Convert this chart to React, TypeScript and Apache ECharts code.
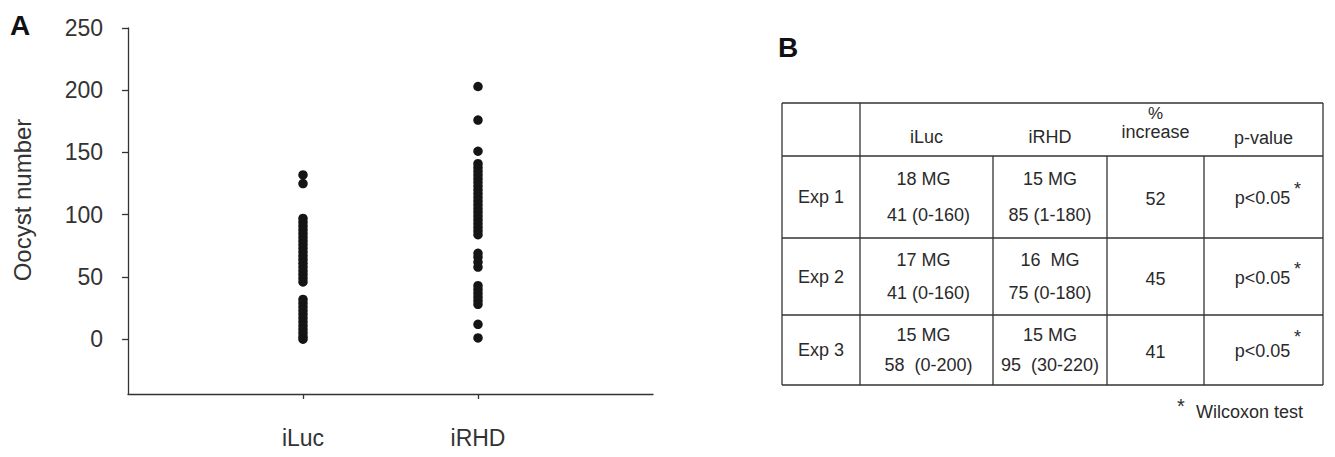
import React, { useEffect, useRef } from "react";
import * as echarts from "echarts";

const categories = ["iLuc", "iRHD"];
const iLucValues = [132, 125, 97, 94, 91, 88, 85, 82, 79, 76, 73, 70, 67, 64, 61, 58, 55, 52, 49, 46, 32, 29, 26, 23, 20, 17, 14, 11, 8, 5, 2, 0];
const iRHDValues = [203, 176, 151, 141, 138, 135, 132, 129, 126, 123, 120, 117, 114, 111, 108, 105, 102, 99, 96, 93, 90, 87, 84, 69, 66, 62, 58, 43, 40, 37, 34, 31, 28, 12, 1];
const yTickValues = [0, 50, 100, 150, 200, 250];
const yAxisName = "Oocyst number";

const tableHeaders = ["", "iLuc", "iRHD", "%", "increase", "p-value"];
const expLabels = ["Exp 1", "Exp 2", "Exp 3"];
const iLucMG = ["18 MG", "17 MG", "15 MG"];
const iLucMedian = ["41 (0-160)", "41 (0-160)", "58  (0-200)"];
const iRHDMG = ["15 MG", "16  MG", "15 MG"];
const iRHDMedian = ["85 (1-180)", "75 (0-180)", "95  (30-220)"];
const pctIncrease = ["52", "45", "41"];
const pValues = ["p<0.05", "p<0.05", "p<0.05"];
const footnoteMark = "*";
const footnote = "Wilcoxon test";

const FONT = "'Liberation Sans', Arial, sans-serif";
const INK = "#2a2a2a";

export default function App() {
  const ref = useRef<HTMLDivElement>(null);
  useEffect(() => {
    if (!ref.current) return;
    const chart = echarts.init(ref.current, undefined, { renderer: "svg" });

    const colX = [782, 860, 993, 1107, 1204, 1323];
    const rowY = [103, 156, 238, 315, 385];
    const graphics: any[] = [];
    const line = (x1: number, y1: number, x2: number, y2: number) => ({
      type: "line",
      shape: { x1, y1, x2, y2 },
      style: { stroke: "#333", lineWidth: 1.3 },
    });
    const txt = (text: string, x: number, y: number, size = 18, align = "center", extra: any = {}) => ({
      type: "text",
      x,
      y,
      style: { text, fill: INK, font: `${size}px ${FONT}`, textAlign: align, textVerticalAlign: "middle", ...extra },
    });

    // table borders
    rowY.forEach((y) => graphics.push(line(colX[0], y, colX[5], y)));
    graphics.push(line(colX[0], rowY[0], colX[0], rowY[4]));
    graphics.push(line(colX[1], rowY[0], colX[1], rowY[4]));
    graphics.push(line(colX[5], rowY[0], colX[5], rowY[4]));
    [2, 3, 4].forEach((c) => graphics.push(line(colX[c], rowY[1], colX[c], rowY[4])));

    // header
    const cx = (c: number) => (colX[c] + colX[c + 1]) / 2;
    graphics.push(txt(tableHeaders[1], cx(1), 137));
    graphics.push(txt(tableHeaders[2], cx(2), 137));
    graphics.push(txt(tableHeaders[3], cx(3), 113, 17));
    graphics.push(txt(tableHeaders[4], cx(3), 132));
    graphics.push(txt(tableHeaders[5], cx(4), 138));

    for (let i = 0; i < 3; i++) {
      const top = rowY[i + 1];
      const bottom = rowY[i + 2];
      const mid = (top + bottom) / 2;
      const off = (bottom - top) * 0.22;
      graphics.push(txt(expLabels[i], cx(0), mid));
      graphics.push(txt(iLucMG[i], cx(1) - 3, mid - off));
      graphics.push(txt(iLucMedian[i], cx(1) + 2, mid + off));
      graphics.push(txt(iRHDMG[i], cx(2), mid - off));
      graphics.push(txt(iRHDMedian[i], cx(2), mid + off));
      graphics.push(txt(pctIncrease[i], cx(3), mid + 2));
      graphics.push(txt(pValues[i], cx(4) - 1, mid + 1));
      graphics.push(txt(footnoteMark, cx(4) + 34, mid - (i === 2 ? 13 : 8), 18, "center"));
    }

    graphics.push(txt(footnoteMark, 1181, 406, 20, "center"));
    graphics.push(txt(footnote, 1196, 412, 18, "left"));

    // panel letters
    graphics.push(txt("A", 10, 25, 28, "left", { font: `bold 28px ${FONT}`, fill: "#111" }));
    graphics.push(txt("B", 778, 47, 28, "left", { font: `bold 28px ${FONT}`, fill: "#111" }));

    // y axis name
    graphics.push({
      type: "text",
      x: 22,
      y: 200,
      rotation: Math.PI / 2,
      style: { text: yAxisName, fill: "#333", font: `24px ${FONT}`, textAlign: "center", textVerticalAlign: "middle" },
    });

    const axisLineStyle = { color: "#333", width: 1.3 };
    const option: any = {
      animation: false,
      backgroundColor: "#ffffff",
      textStyle: { fontFamily: FONT },
      grid: { left: 128, top: 28, right: 682, bottom: 63, containLabel: false, outerBoundsMode: "none" },
      xAxis: {
        type: "value",
        min: 0,
        max: 3,
        axisLine: { show: true, onZero: false, lineStyle: axisLineStyle },
        axisTick: { show: true, customValues: [1, 2], length: 5, lineStyle: axisLineStyle },
        axisLabel: {
          customValues: [1, 2],
          formatter: (v: number) => categories[Math.round(v) - 1] ?? "",
          fontSize: 23,
          color: "#333",
          margin: 32,
          fontFamily: FONT,
        },
        splitLine: { show: false },
      },
      yAxis: {
        type: "value",
        min: -44,
        max: 250,
        axisLine: { show: true, onZero: false, lineStyle: axisLineStyle },
        axisTick: { show: true, customValues: yTickValues, length: 6, lineStyle: axisLineStyle },
        axisLabel: { customValues: yTickValues, fontSize: 23, color: "#333", margin: 25, fontFamily: FONT },
        splitLine: { show: false },
      },
      series: [
        {
          type: "scatter",
          name: categories[0],
          data: iLucValues.map((v) => [1, v]),
          symbolSize: 9.5,
          itemStyle: { color: "#151515", opacity: 1 },
        },
        {
          type: "scatter",
          name: categories[1],
          data: iRHDValues.map((v) => [2, v]),
          symbolSize: 9.5,
          itemStyle: { color: "#151515", opacity: 1 },
        },
      ],
      graphic: graphics,
    };
    chart.setOption(option);
    return () => chart.dispose();
  }, []);

  return (
    <div
      ref={ref}
      style={{ position: "fixed", left: 0, top: 0, width: 1335, height: 457, background: "#fff" }}
    />
  );
}
